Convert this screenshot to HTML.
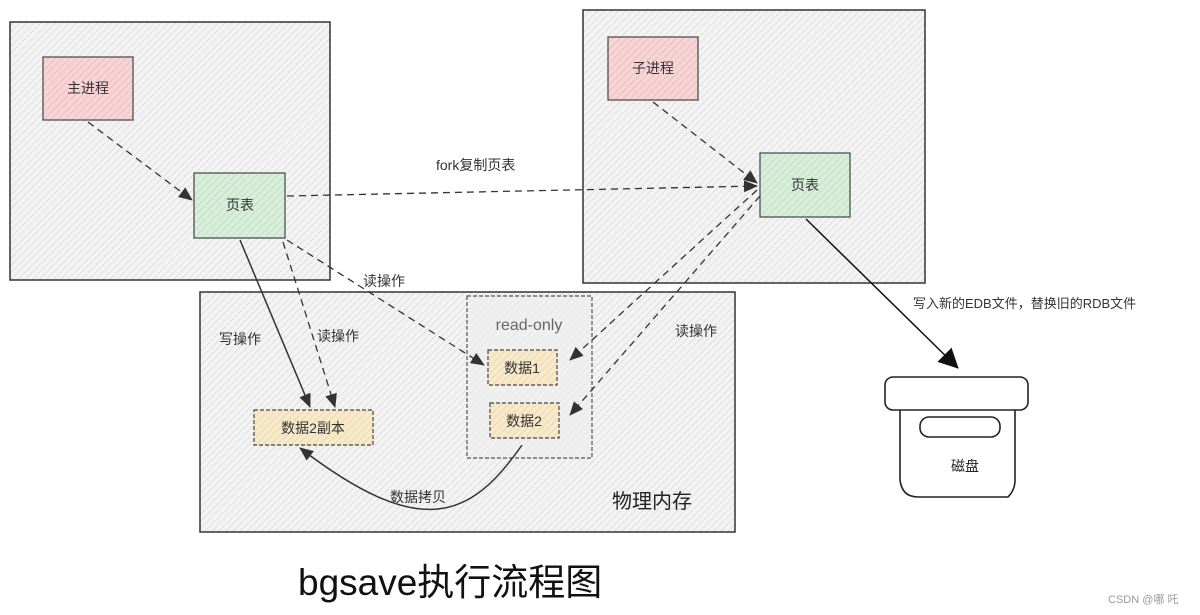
<!DOCTYPE html>
<html><head><meta charset="utf-8"><style>
html,body{margin:0;padding:0;background:#fff;width:1200px;height:615px;overflow:hidden}
text{font-family:"Liberation Sans","Noto Sans CJK SC",sans-serif}
</style></head><body>
<svg width="1200" height="615" viewBox="0 0 1200 615" xmlns="http://www.w3.org/2000/svg">
<defs>
<pattern id="h" width="5" height="5" patternUnits="userSpaceOnUse" patternTransform="rotate(45)">
<rect width="5" height="5" fill="#f3f3f3"/><line x1="0" y1="0" x2="0" y2="5" stroke="#d4d4d4" stroke-width="1.2"/></pattern>
<pattern id="hr" width="5" height="5" patternUnits="userSpaceOnUse" patternTransform="rotate(45)">
<rect width="5" height="5" fill="#f6d5d7"/><line x1="0" y1="0" x2="0" y2="5" stroke="#eeb3b7" stroke-width="1.5"/></pattern>
<pattern id="hg" width="5" height="5" patternUnits="userSpaceOnUse" patternTransform="rotate(45)">
<rect width="5" height="5" fill="#d8eedb"/><line x1="0" y1="0" x2="0" y2="5" stroke="#b6dcbb" stroke-width="1.5"/></pattern>
<pattern id="hy" width="5" height="5" patternUnits="userSpaceOnUse" patternTransform="rotate(45)">
<rect width="5" height="5" fill="#f6e9cc"/><line x1="0" y1="0" x2="0" y2="5" stroke="#ebd39f" stroke-width="1.5"/></pattern>
<marker id="a" markerWidth="14" markerHeight="14" refX="13" refY="7" orient="auto" markerUnits="userSpaceOnUse" viewBox="0 0 14 14">
<path d="M0,1 L14,7 L0,13 z" fill="#333"/></marker>
<marker id="ab" markerWidth="20" markerHeight="20" refX="19" refY="10" orient="auto" markerUnits="userSpaceOnUse" viewBox="0 0 20 20">
<path d="M0,0 L20,10 L0,20 z" fill="#111"/></marker>
</defs>
<g stroke="#333" stroke-width="1.5">
<rect x="10" y="22" width="320" height="258" fill="url(#h)"/>
<rect x="583" y="10" width="342" height="273" fill="url(#h)"/>
<rect x="200" y="292" width="535" height="240" fill="url(#h)"/>
</g>
<rect x="467" y="296" width="125" height="162" fill="#eeeeee" fill-opacity="0.6" stroke="#555" stroke-width="1.2" stroke-dasharray="4 2"/>
<g stroke="#444" stroke-width="1.2">
<rect x="43" y="57" width="90" height="63" fill="url(#hr)"/>
<rect x="194" y="173" width="91" height="65" fill="url(#hg)"/>
<rect x="608" y="37" width="90" height="63" fill="url(#hr)"/>
<rect x="760" y="153" width="90" height="64" fill="url(#hg)"/>
</g>
<g stroke="#444" stroke-width="1.2" stroke-dasharray="4 2">
<rect x="488" y="350" width="69" height="35" fill="url(#hy)"/>
<rect x="490" y="403" width="69" height="35" fill="url(#hy)"/>
<rect x="254" y="410" width="119" height="35" fill="url(#hy)"/>
</g>
<g font-size="14" fill="#333" text-anchor="middle">
<text x="88" y="93">主进程</text>
<text x="240" y="210">页表</text>
<text x="653" y="73">子进程</text>
<text x="805" y="190">页表</text>
<text x="522" y="373">数据1</text>
<text x="524" y="426">数据2</text>
<text x="313" y="433">数据2副本</text>
</g>
<text x="529" y="330" font-size="16" fill="#666" text-anchor="middle">read-only</text>
<g stroke="#333" stroke-width="1.3" fill="none" stroke-dasharray="7 5">
<path d="M88,122 L192,200" marker-end="url(#a)"/>
<path d="M287,196 L757,186" marker-end="url(#a)"/>
<path d="M653,102 L757,183" marker-end="url(#a)"/>
<path d="M287,240 L484,365" marker-end="url(#a)"/>
<path d="M283,242 L335,407" marker-end="url(#a)"/>
<path d="M757,190 L570,360" marker-end="url(#a)"/>
<path d="M760,196 L570,415" marker-end="url(#a)"/>
</g>
<g stroke="#333" stroke-width="1.5" fill="none">
<path d="M240,240 L310,407" marker-end="url(#a)"/>
<path d="M522,445 C470,520 420,540 300,448" marker-end="url(#a)"/>
<path d="M806,219 L958,368" stroke="#111" marker-end="url(#ab)"/>
</g>
<g font-size="14" fill="#333">
<text x="436" y="170">fork复制页表</text>
<text x="363" y="286">读操作</text>
<text x="219" y="344">写操作</text>
<text x="317" y="341">读操作</text>
<text x="675" y="336">读操作</text>
<text x="913" y="308" font-size="13">写入新的EDB文件，替换旧的RDB文件</text>
<text x="390" y="502">数据拷贝</text>
<text x="612" y="508" font-size="20" fill="#222">物理内存</text>
</g>
<g stroke="#222" stroke-width="1.6" fill="#fff">
<path d="M900,408 L900,480 Q902,497 918,497 L1008,497 Q1015,490 1015,480 L1015,408 Z"/>
<rect x="885" y="377" width="143" height="33" rx="8"/>
<rect x="920" y="417" width="80" height="20" rx="9"/>
</g>
<text x="965" y="471" font-size="14" fill="#222" text-anchor="middle">磁盘</text>
<text x="298" y="595" font-size="37" fill="#111">bgsave执行流程图</text>
<text x="1108" y="603" font-size="11" fill="#999">CSDN @哪 吒</text>
</svg>
</body></html>
